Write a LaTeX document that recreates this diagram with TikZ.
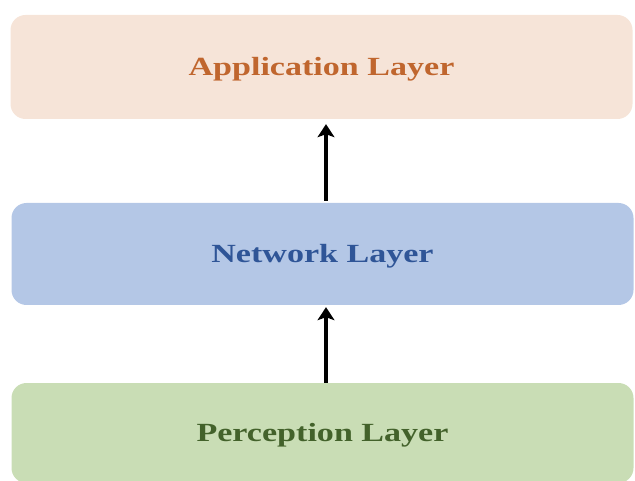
\documentclass[tikz,border=0pt]{standalone}
\usepackage{fontspec}
\usepackage{xcolor}
\usepackage{tikz}
\usetikzlibrary{positioning, arrows.meta}
\newfontfamily\layerfont[FakeStretch=1.3]{Liberation Serif}
\definecolor{aFill}{HTML}{F6E4D8}
\definecolor{aInk}{HTML}{C0662E}
\definecolor{nFill}{HTML}{B4C7E6}
\definecolor{nInk}{HTML}{2F5597}
\definecolor{pFill}{HTML}{C9DDB5}
\definecolor{pInk}{HTML}{43622B}

\begin{document}
\begin{tikzpicture}[x=1pt, y=-1pt, >={Stealth[length=13pt, width=17pt, inset=3pt]},
  layer/.style={rounded corners=15pt, minimum width=622pt, inner sep=0pt,
    text height=17.5pt, text depth=0pt,
    font=\layerfont\fontsize{26.2}{30}\selectfont\bfseries}]
  \useasboundingbox (0,0) rectangle (635,481);
  \node[layer, fill=aFill, text=aInk, minimum height=104pt] (app) at (321.5,67) {Application Layer};
  \node[layer, fill=nFill, text=nInk, minimum height=102pt] (net) at (322.5,254) {Network Layer};
  \node[layer, fill=pFill, text=pInk, minimum height=100pt] (per) at (322.5,433) {Perception Layer};
  \draw[->, line width=3.5pt, shorten <=2pt, shorten >=5pt] (net.north -| 326,0) -- (app.south -| 326,0);
  \draw[->, line width=3.5pt, shorten >=2pt] (per.north -| 326,0) -- (net.south -| 326,0);
\end{tikzpicture}
\end{document}
